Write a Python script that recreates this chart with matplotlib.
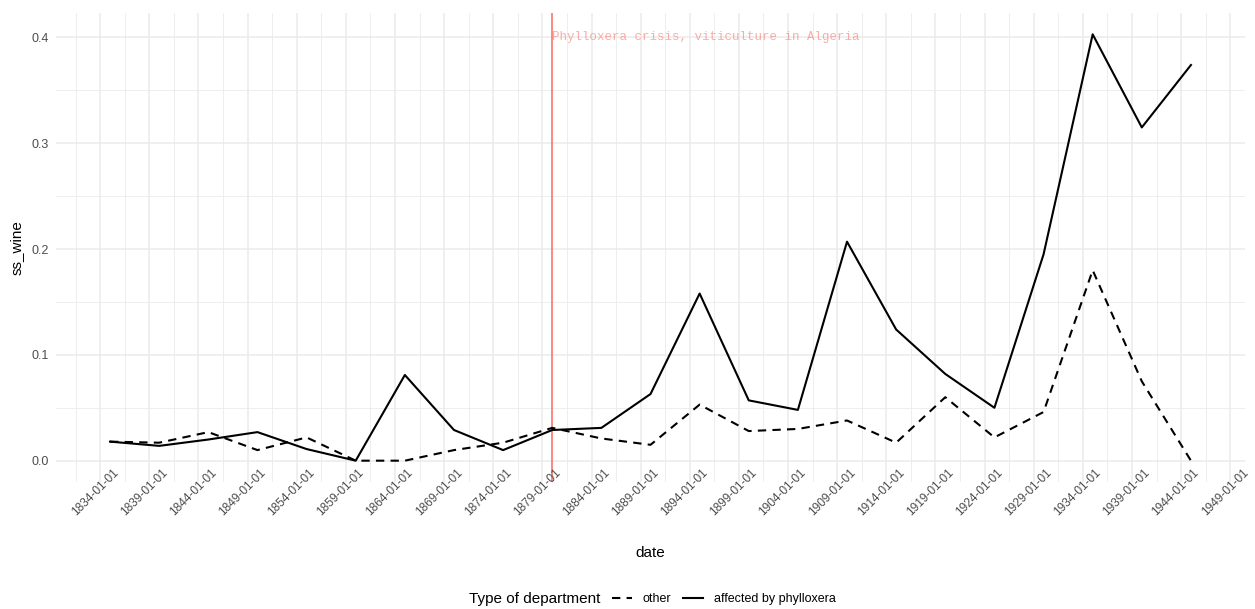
import numpy as np
import matplotlib
matplotlib.use("Agg")
import matplotlib.pyplot as plt
import matplotlib.dates as mdates
import matplotlib.transforms as mtransforms
from matplotlib.lines import Line2D
from matplotlib.ticker import MultipleLocator

plt.rcParams['font.family'] = ['Liberation Sans', 'DejaVu Sans']

# ---- data ----
years = [1835, 1840, 1845, 1850, 1855, 1860, 1865, 1870, 1875, 1880, 1885, 1890,
         1895, 1900, 1905, 1910, 1915, 1920, 1925, 1930, 1935, 1940, 1945]
affected = [0.018, 0.014, 0.020, 0.027, 0.011, 0.000, 0.081, 0.029, 0.010, 0.029, 0.031, 0.063,
            0.158, 0.057, 0.048, 0.207, 0.124, 0.082, 0.050, 0.195, 0.403, 0.315, 0.374]
other = [0.018, 0.017, 0.027, 0.010, 0.022, 0.000, 0.000, 0.010, 0.017, 0.031, 0.021, 0.015,
         0.053, 0.028, 0.030, 0.038, 0.017, 0.060, 0.022, 0.046, 0.180, 0.075, 0.000]
tick_years = list(range(1834, 1950, 5))
tick_labels = [f"{y}-01-01" for y in tick_years]
event_year = 1880
event_label = "Phylloxera crisis, viticulture in Algeria"
series_names = ["other", "affected by phylloxera"]

dates = mdates.date2num(np.array([f"{y}-01-01" for y in years], dtype="datetime64[D]"))
tick_pos = mdates.date2num(np.array(tick_labels, dtype="datetime64[D]"))
event_pos = mdates.date2num(np.datetime64(f"{event_year}-01-01"))

W, H = 1255, 609
fig = plt.figure(figsize=(W / 100, H / 100), dpi=100)
left, right, top, bottom = 56, 1245, 13, 482
ax = fig.add_axes([left / W, 1 - bottom / H, (right - left) / W, (bottom - top) / H])

grid_c = "#EBEBEB"
for s in ax.spines.values():
    s.set_visible(False)

lw = 1.5
ax.plot(dates, other, color="black", lw=lw, linestyle=(0, (4, 3)), zorder=3)
ax.plot(dates, affected, color="black", lw=lw, zorder=3)

ax.axvline(event_pos, color="#F8766D", lw=1.2, zorder=2)
ax.text(event_pos, 0.4, event_label, color="#F8766D", alpha=0.6,
        fontfamily="Liberation Mono", fontsize=9, ha="left", va="center", zorder=4)

# x axis
rng = dates[-1] - dates[0]
ax.set_xlim(dates[0] - 0.05 * rng, dates[-1] + 0.05 * rng)
ax.set_xticks(tick_pos)
ax.set_xticklabels([])
minor_x = (tick_pos[:-1] + tick_pos[1:]) / 2
minor_x = np.concatenate([[tick_pos[0] - (tick_pos[1] - tick_pos[0]) / 2], minor_x])
ax.set_xticks(minor_x, minor=True)

# rotated tick labels drawn as text (ggplot-style offset)
blend = mtransforms.blended_transform_factory(ax.transData, ax.transAxes)
shift = mtransforms.ScaledTranslation(12 / 100, 15 / 100, fig.dpi_scale_trans)
for p, lab in zip(tick_pos, tick_labels):
    ax.text(p, 0, lab, transform=blend + shift, rotation=45, ha="right", va="top",
            rotation_mode="anchor", fontsize=8.6, color="#4D4D4D", clip_on=False)

# y axis
ymax = max(affected)
ax.set_ylim(-0.05 * ymax, ymax * 1.05)
ax.yaxis.set_minor_locator(MultipleLocator(0.05))
ax.set_yticks([0.0, 0.1, 0.2, 0.3, 0.4])
ax.set_yticklabels(["0.0", "0.1", "0.2", "0.3", "0.4"], fontsize=9, color="#4D4D4D")

ax.tick_params(axis="both", which="both", length=0)
ax.tick_params(axis="y", pad=5)

ax.grid(True, which="major", color=grid_c, lw=1.1, zorder=0)
ax.grid(True, which="minor", color=grid_c, lw=0.6, zorder=0)
ax.set_axisbelow(True)

ax.set_xlabel("date", fontsize=11, va="center")
ax.xaxis.set_label_coords(0.5, (bottom - 553) / (bottom - top))
ax.set_ylabel("ss_wine", fontsize=11, labelpad=6)

# legend
fig.text(600 / W, 1 - 599 / H, "Type of department", fontsize=11,
         ha="right", va="center")
handles = [Line2D([], [], color="black", lw=lw, linestyle=(0, (4, 3))),
           Line2D([], [], color="black", lw=lw)]
fig.legend(handles, series_names, loc="center left",
           bbox_to_anchor=(612 / W, 1 - 599 / H), ncol=2, frameon=False,
           fontsize=9.0, handlelength=1.6, handletextpad=0.85, columnspacing=0.95,
           borderpad=0, borderaxespad=0)

fig.savefig("out.png", dpi=100)
